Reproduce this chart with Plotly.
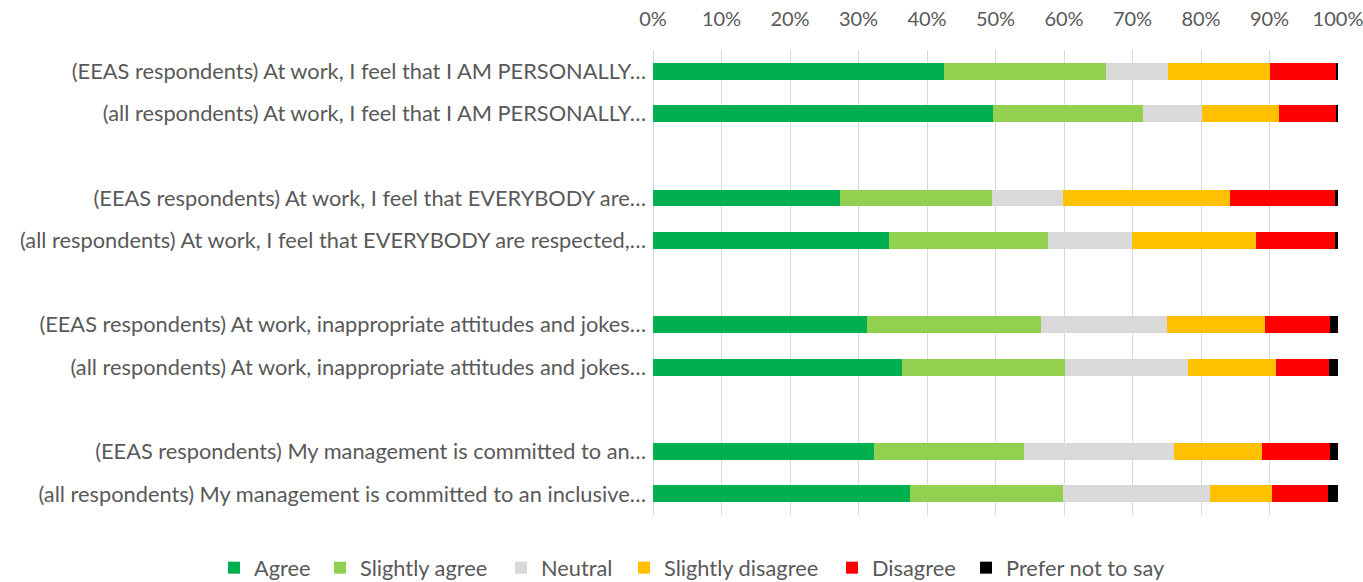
import plotly.graph_objects as go

# Survey statements (row labels, top to bottom); blank entries separate question groups
categories = [
    "(EEAS respondents) At work, I feel that I AM PERSONALLY…",
    "(all respondents) At work, I feel that I AM PERSONALLY…",
    " ",
    "(EEAS respondents) At work, I feel that EVERYBODY are…",
    "(all respondents) At work, I feel that EVERYBODY are respected,…",
    "  ",
    "(EEAS respondents) At work, inappropriate attitudes and jokes…",
    "(all respondents) At work, inappropriate attitudes and jokes…",
    "   ",
    "(EEAS respondents) My management is committed to an…",
    "(all respondents) My management is committed to an inclusive…",
]
rows = [c for c in categories if c.strip()]

# Share of answers (%) for each row, in the order of `rows`
agree = [42.5, 49.6, 27.3, 34.4, 31.3, 36.3, 32.2, 37.5]
slightly_agree = [23.7, 21.9, 22.2, 23.3, 25.3, 23.8, 21.9, 22.4]
neutral = [9.0, 8.7, 10.4, 12.2, 18.5, 18.0, 22.0, 21.4]
slightly_disagree = [14.8, 11.2, 24.3, 18.2, 14.2, 12.8, 12.8, 9.1]
disagree = [9.7, 8.3, 15.4, 11.5, 9.6, 7.8, 10.0, 8.1]
prefer_not = [0.3, 0.3, 0.4, 0.4, 1.1, 1.3, 1.1, 1.5]

series = [
    ("Agree", agree, "#00B050"),
    ("Slightly agree", slightly_agree, "#92D050"),
    ("Neutral", neutral, "#D9D9D9"),
    ("Slightly disagree", slightly_disagree, "#FFC000"),
    ("Disagree", disagree, "#FF0000"),
    ("Prefer not to say", prefer_not, "#000000"),
]

ticks = list(range(0, 101, 10))
tick_text = [f"{t}%" for t in ticks]

font_family = "Lato, 'Open Sans', sans-serif"
text_color = "#595959"
font_size = 21.8

W, H = 1363, 582
# left edge (px) of each legend entry along the bottom row
legend_left_px = [214, 320, 501, 624, 832, 966]

fig = go.Figure()
legend_layouts = {}
for i, (name, vals, color) in enumerate(series):
    key = "legend" if i == 0 else f"legend{i + 1}"
    fig.add_trace(go.Bar(
        name=name,
        y=rows,
        x=vals,
        orientation="h",
        marker=dict(color=color, line=dict(width=0)),
        legend=key,
        hovertemplate="%{y}<br>" + name + ": %{x:.1f}%<extra></extra>",
    ))
    legend_layouts[key] = dict(
        orientation="h",
        xref="container",
        yref="container",
        x=legend_left_px[i] / W,
        xanchor="left",
        y=(H - 568) / H,
        yanchor="middle",
        font=dict(size=font_size, color=text_color),
        itemwidth=30,
        bgcolor="rgba(0,0,0,0)",
    )

fig.update_layout(
    barmode="stack",
    bargap=0.6,
    width=W,
    height=H,
    margin=dict(l=653, r=25, t=50, b=67, autoexpand=False),
    paper_bgcolor="white",
    plot_bgcolor="white",
    font=dict(family=font_family, size=font_size, color=text_color),
    xaxis=dict(
        side="top",
        range=[0, 100],
        tickvals=ticks,
        ticktext=tick_text,
        tickfont=dict(size=20),
        showgrid=True,
        gridcolor="#D9D9D9",
        gridwidth=1,
        zeroline=True,
        zerolinecolor="#D9D9D9",
        zerolinewidth=1,
        showline=False,
        ticks="",
        ticklabelstandoff=19,
        ticklabeloverflow="allow",
        fixedrange=True,
    ),
    yaxis=dict(
        type="category",
        categoryorder="array",
        categoryarray=categories,
        autorange="reversed",
        showgrid=False,
        showline=False,
        ticks="",
        ticklabelstandoff=6,
        fixedrange=True,
    ),
    showlegend=True,
    **legend_layouts,
)

fig.write_html("out.html")
